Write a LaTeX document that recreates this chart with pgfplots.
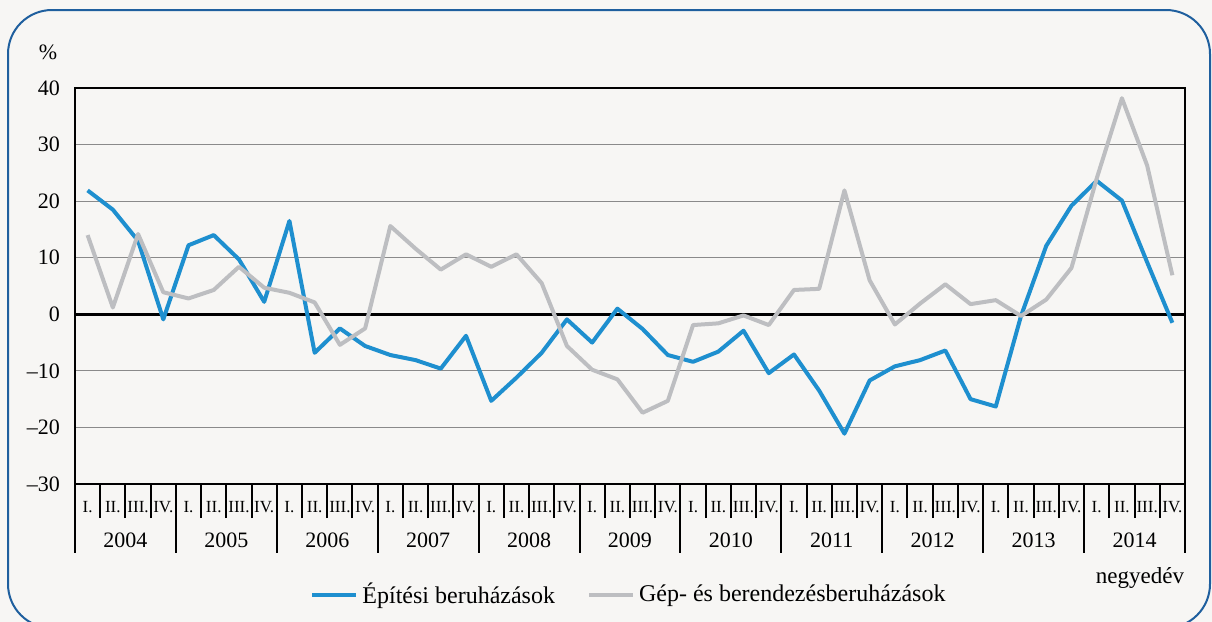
\documentclass[border=0pt]{standalone}
\usepackage{fontspec}
\setmainfont{Liberation Serif}
\usepackage{pgfplots}
\pgfplotsset{compat=1.18}
\definecolor{bg}{HTML}{F7F6F4}
\definecolor{frame}{HTML}{1F5F9E}
\definecolor{bluel}{HTML}{1E8FCF}
\definecolor{grayl}{HTML}{BDBEC1}
\definecolor{gridc}{HTML}{8A8A8A}
\pgfplotstableread{
x blue gray
0 21.9 14.0
1 18.5 1.2
2 13.0 14.2
3 -0.9 3.9
4 12.2 2.8
5 14.0 4.3
6 9.7 8.4
7 2.2 4.7
8 16.5 3.8
9 -6.8 2.1
10 -2.5 -5.4
11 -5.6 -2.5
12 -7.2 15.6
13 -8.1 11.6
14 -9.6 7.9
15 -3.8 10.6
16 -15.3 8.4
17 -11.2 10.6
18 -6.8 5.5
19 -0.9 -5.6
20 -5.0 -9.8
21 1.0 -11.5
22 -2.6 -17.4
23 -7.2 -15.3
24 -8.4 -1.9
25 -6.6 -1.6
26 -2.9 -0.2
27 -10.4 -1.9
28 -7.1 4.3
29 -13.5 4.5
30 -21.1 21.9
31 -11.7 6.0
32 -9.2 -1.8
33 -8.1 1.9
34 -6.4 5.3
35 -15.0 1.8
36 -16.3 2.5
37 -0.3 -0.3
38 12.1 2.6
39 19.2 8.2
40 23.6 24.0
41 20.1 38.2
42 9.2 26.3
43 -1.5 6.9
}\datatable
\begin{document}
\begin{tikzpicture}
\useasboundingbox (0,0) rectangle (606pt,-311pt);
\fill[bg] (0,0) rectangle (606pt,-311pt);
\begin{scope}
\clip (0,0) rectangle (606pt,-311pt);
\draw[frame, line width=1pt, rounded corners=22pt] (4pt,-5pt) rectangle (605pt,-314pt);
\end{scope}
\node[font=\fontsize{11}{13}\selectfont] at (24pt,-26pt) {\%};
\node[font=\fontsize{11.5}{13}\selectfont] at (570pt,-289pt) {negyedév};
\begin{axis}[
  at={(37.5pt,-242pt)}, anchor=south west,
  scale only axis, width=555pt, height=198pt,
  xmin=-0.5, xmax=43.5, ymin=-30, ymax=40,
  clip=false,
  axis line style={black, line width=1pt},
  ytick={-30,-20,...,40},
  yticklabels={\textendash30,\textendash20,\textendash10,0,10,20,30,40},
  ytick style={draw=none},
  yticklabel style={font=\fontsize{11}{13}\selectfont, xshift=-4pt},
  ymajorgrids, grid style={gridc, line width=0.6pt},
  extra y ticks={0}, extra y tick labels={},
  extra y tick style={grid style={black, line width=1.7pt}, ytick style={draw=none}},
  xtick={0,...,43},
  xticklabels={I.,II.,III.,IV.,I.,II.,III.,IV.,I.,II.,III.,IV.,I.,II.,III.,IV.,I.,II.,III.,IV.,I.,II.,III.,IV.,I.,II.,III.,IV.,I.,II.,III.,IV.,I.,II.,III.,IV.,I.,II.,III.,IV.,I.,II.,III.,IV.},
  major tick length=0pt,
  xticklabel style={font=\fontsize{8.5}{10}\selectfont, anchor=center, yshift=-11.5pt},
  minor xtick={-0.5,0.5,...,43.5},
  minor tick length=17pt,
  tick align=outside,
  xtick pos=bottom,
  xtick style={black, line width=1pt},
  legend style={at={(0.5,-0.2803)}, anchor=center, draw=none, fill=none,
    legend columns=2, font=\fontsize{12}{14}\selectfont,
    /tikz/every even column/.append style={column sep=14pt}},
  legend image code/.code={\draw[#1, line width=2pt] (0pt,0pt) -- (22pt,0pt);},
]
\addplot[bluel, line width=2pt, line join=round] table[x=x, y=blue] {\datatable};
\addlegendentry{Építési beruházások}
\addplot[grayl, line width=2pt, line join=round] table[x=x, y=gray] {\datatable};
\addlegendentry{Gép- és berendezésberuházások}
\foreach \k in {0,...,11} {
  \edef\tmp{\noexpand\draw[black, line width=1pt] (axis cs:{4*\k-0.5},-30) -- ++(0pt,-34.5pt);}
  \tmp
}
\node[font=\fontsize{11}{13}\selectfont] at (axis cs:1.5,-30) [yshift=-28pt] {2004};
\node[font=\fontsize{11}{13}\selectfont] at (axis cs:5.5,-30) [yshift=-28pt] {2005};
\node[font=\fontsize{11}{13}\selectfont] at (axis cs:9.5,-30) [yshift=-28pt] {2006};
\node[font=\fontsize{11}{13}\selectfont] at (axis cs:13.5,-30) [yshift=-28pt] {2007};
\node[font=\fontsize{11}{13}\selectfont] at (axis cs:17.5,-30) [yshift=-28pt] {2008};
\node[font=\fontsize{11}{13}\selectfont] at (axis cs:21.5,-30) [yshift=-28pt] {2009};
\node[font=\fontsize{11}{13}\selectfont] at (axis cs:25.5,-30) [yshift=-28pt] {2010};
\node[font=\fontsize{11}{13}\selectfont] at (axis cs:29.5,-30) [yshift=-28pt] {2011};
\node[font=\fontsize{11}{13}\selectfont] at (axis cs:33.5,-30) [yshift=-28pt] {2012};
\node[font=\fontsize{11}{13}\selectfont] at (axis cs:37.5,-30) [yshift=-28pt] {2013};
\node[font=\fontsize{11}{13}\selectfont] at (axis cs:41.5,-30) [yshift=-28pt] {2014};
\end{axis}
\end{tikzpicture}
\end{document}
